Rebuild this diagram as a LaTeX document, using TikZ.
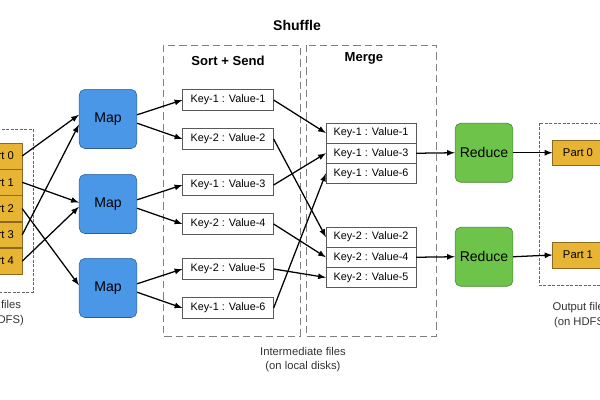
\documentclass[tikz,border=0pt]{standalone}
\usepackage{fontspec}
\setmainfont{Liberation Sans}
\usetikzlibrary{shapes,arrows,positioning}

\definecolor{mapblue}{RGB}{74,151,232}
\definecolor{mapedge}{RGB}{45,95,150}
\definecolor{redgreen}{RGB}{110,196,74}
\definecolor{rededge}{RGB}{70,130,50}
\definecolor{partyellow}{RGB}{232,180,52}
\definecolor{partedge}{RGB}{140,105,30}

\tikzset{
  mapbox/.style={draw=mapedge, fill=mapblue, rounded corners=4pt, minimum width=41pt, minimum height=42pt, font=\fontsize{10}{12}\selectfont},
  redbox/.style={mapbox, draw=rededge, fill=redgreen},
  kvbox/.style={draw=gray!70!black, fill=white, minimum width=64.5pt, minimum height=14.9pt, inner sep=0pt, font=\fontsize{7.7}{9}\selectfont},
  mrgbox/.style={kvbox, minimum width=63.8pt, minimum height=14pt},
  partbox/.style={draw=partedge, fill=partyellow, minimum width=36pt, minimum height=18.3pt, inner sep=0pt, font=\fontsize{8}{10}\selectfont},
  stage/.style={draw=gray, dash pattern=on 5pt off 3pt},
  files/.style={draw=gray!80!black, dash pattern=on 2pt off 1.2pt},
  title/.style={font=\bfseries\fontsize{9.3}{11}\selectfont},
  caption/.style={align=center, font=\fontsize{8}{11}\selectfont, text=black!80},
  flow/.style={-latex, line width=0.9pt}
}

\begin{document}
\begin{tikzpicture}[x=0.025cm,y=-0.025cm]
\useasboundingbox (0,0) rectangle (600,400);

% --- Riquadri tratteggiati ---
\draw[stage] (163,45) rectangle (300,336);
\draw[stage] (306,45) rectangle (436,336);
\draw[files] (-40,129) rectangle (33,292);
\draw[files] (539,123) rectangle (640,285);

% --- Titoli ---
\node[title, font=\bfseries\fontsize{10}{12}\selectfont] (shuffle) at (297,25) {Shuffle};
\node[title] (sorttitle) at (228,61) {Sort + Send};
\node[title] (mergetitle) at (364,58) {Merge};

% --- Input ---
\node[partbox, minimum width=32.6pt] (in0) at (-1,156) {Part 0};
\node[partbox, minimum width=32.6pt, below=0pt of in0] (in1) {Part 1};
\node[partbox, minimum width=32.6pt, below=0pt of in1] (in2) {Part 2};
\node[partbox, minimum width=32.6pt, below=0pt of in2] (in3) {Part 3};
\node[partbox, minimum width=32.6pt, below=0pt of in3] (in4) {Part 4};
\node[caption] (incap) at (-3,313) {Input files\\(on HDFS)};

% --- Map ---
\node[mapbox] (map1) at (108,119) {Map};
\node[mapbox] (map2) at (108,204) {Map};
\node[mapbox] (map3) at (108,288) {Map};

% --- Sort + Send ---
\node[kvbox] (kv1) at (228,100) {Key-1 : Value-1};
\node[kvbox] (kv2) at (228,139) {Key-2 : Value-2};
\node[kvbox] (kv3) at (228,185) {Key-1 : Value-3};
\node[kvbox] (kv4) at (228,224) {Key-2 : Value-4};
\node[kvbox] (kv5) at (228,269) {Key-2 : Value-5};
\node[kvbox] (kv6) at (228,308) {Key-1 : Value-6};

% --- Merge ---
\node[mrgbox] (ma) at (371,133) {Key-1 : Value-1};
\node[mrgbox, below=0pt of ma] (mb) {Key-1 : Value-3};
\node[mrgbox, below=0pt of mb] (mc) {Key-1 : Value-6};
\node[mrgbox] (na) at (371,237) {Key-2 : Value-2};
\node[mrgbox, below=0pt of na] (nb) {Key-2 : Value-4};
\node[mrgbox, below=0pt of nb] (nc) {Key-2 : Value-5};

% --- Reduce e output ---
\node[redbox] (red1) at (484,152.75) {Reduce};
\node[redbox] (red2) at (484,256.75) {Reduce};
\node[partbox] (out0) at (578,152.75) {Part 0};
\node[partbox] (out1) at (578,255) {Part 1};
\node[caption] (outcap) at (581,315) {Output files\\(on HDFS)};
\node[caption, font=\fontsize{8}{10}\selectfont] (midcap) at (303,360) {Intermediate files\\(on local disks)};

% --- Frecce ---
\draw[flow] (in0.east) -- ([yshift=3pt]map1.west);
\draw[flow] (in3.east) -- ([yshift=-4pt]map1.west);
\draw[flow] (in1.east) -- ([yshift=1pt]map2.west);
\draw[flow] (in4.east) -- ([yshift=-2pt]map2.west);
\draw[flow] (in2.east) -- ([yshift=2pt]map3.west);

\draw[flow] ([yshift=3pt]map1.east) -- (kv1.west);
\draw[flow] ([yshift=-3pt]map1.east) -- (kv2.west);
\draw[flow] ([yshift=3pt]map2.east) -- (kv3.west);
\draw[flow] ([yshift=-3pt]map2.east) -- (kv4.west);
\draw[flow] ([yshift=3pt]map3.east) -- (kv5.west);
\draw[flow] ([yshift=-3pt]map3.east) -- (kv6.west);

\draw[flow] (kv1.east) -- (ma.west);
\draw[flow] (kv2.east) -- (na.west);
\draw[flow] (kv3.east) -- (mb.west);
\draw[flow] (kv4.east) -- (nb.west);
\draw[flow] (kv5.east) -- (nc.west);
\draw[flow] (kv6.east) -- (mc.west);

\draw[flow] (mb.east) -- (red1.west);
\draw[flow] (nb.east) -- (red2.west);
\draw[flow] (red1.east) -- (out0.west);
\draw[flow] (red2.east) -- (out1.west);

\end{tikzpicture}
\end{document}
